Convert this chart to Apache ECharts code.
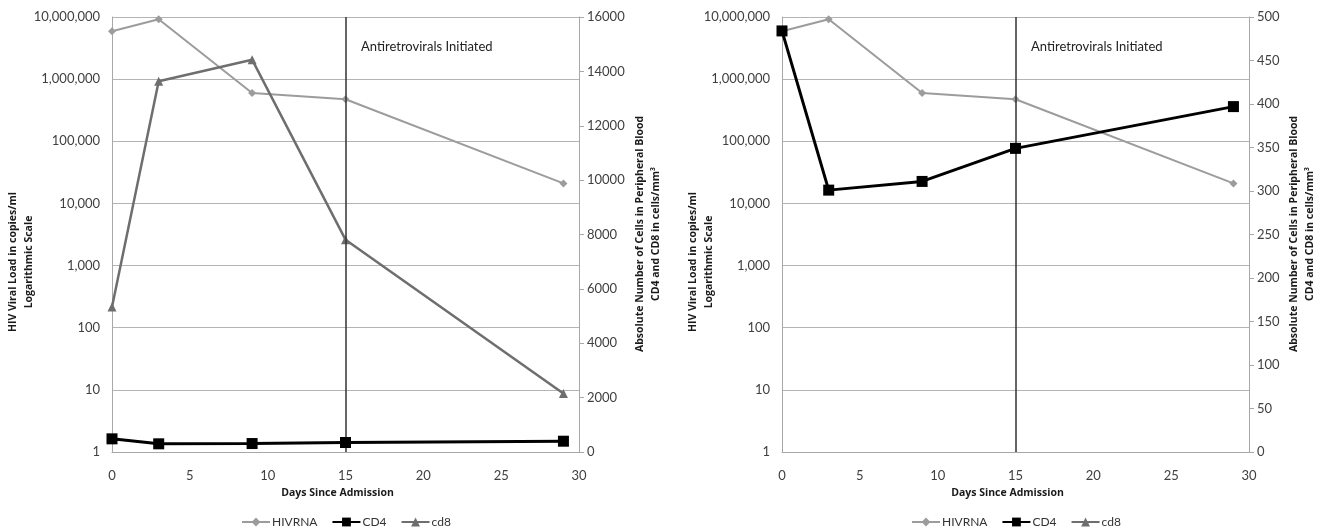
<!DOCTYPE html>
<html>
<head>
<meta charset="utf-8">
<script src="https://cdn.jsdelivr.net/npm/echarts@6/dist/echarts.min.js"></script>
<style>
html,body{margin:0;padding:0;background:#fff;}
#c{width:1321px;height:527px;}
</style>
</head>
<body>
<div id="c"></div>
<script>
// ---- data ----
var days = [0, 3, 9, 15, 29];
var hivRna = [5900000, 9200000, 600000, 475000, 21000];
var cd4 = [484, 301, 311, 349, 397];
var cd8 = [5330, 13640, 14430, 7810, 2150];
var xTicks = [0, 5, 10, 15, 20, 25, 30];
var artDay = 15;
var seriesNames = ['HIVRNA', 'CD4', 'cd8'];
var leftRightMax = 16000, leftRightStep = 2000;
var rightRightMax = 500, rightRightStep = 50;

function pairs(xs, ys) { return xs.map(function (x, i) { return [x, ys[i]]; }); }

var FONT = 'Lato, "Open Sans", sans-serif';
var BFONT = '"Open Sans", Lato, sans-serif';
var labelColor = '#404040';
var axisLineColor = '#a8a8a8';
var gridColor = '#b4b4b4';

function xAxis(gi) {
  return {
    type: 'value', gridIndex: gi, min: xTicks[0], max: xTicks[xTicks.length - 1], interval: 5,
    axisLine: { show: true, lineStyle: { color: axisLineColor, width: 1 } },
    axisTick: { show: false },
    splitLine: { show: false },
    axisLabel: { color: labelColor, fontSize: 13, fontFamily: FONT, margin: 17 },
    name: 'Days Since Admission', nameLocation: 'middle', nameGap: 36,
    nameTextStyle: { fontWeight: 'bold', fontSize: 10.5, color: '#1a1a1a', fontFamily: BFONT, padding: [0, 16, 0, 0] }
  };
}
function logAxis(gi) {
  return {
    type: 'log', gridIndex: gi, logBase: 10, min: 1, max: 10000000, interval: 1, position: 'left',
    axisLine: { show: true, lineStyle: { color: axisLineColor, width: 1 } },
    axisTick: { show: false },
    splitLine: { show: true, lineStyle: { color: gridColor, width: 1 } },
    axisLabel: { color: labelColor, fontSize: 13, fontFamily: FONT, margin: 12,
      formatter: function (v) { return Math.round(v).toLocaleString('en-US'); } }
  };
}
function valAxis(gi, max, step) {
  return {
    type: 'value', gridIndex: gi, min: 0, max: max, interval: step, position: 'right',
    axisLine: { show: true, lineStyle: { color: axisLineColor, width: 1 } },
    axisTick: { show: true, length: 5, lineStyle: { color: axisLineColor } },
    splitLine: { show: false },
    axisLabel: { color: labelColor, fontSize: 13, fontFamily: FONT, margin: 8,
      formatter: function (v) { return String(Math.round(v)); } }
  };
}
function makeSeries(gi) {
  var xa = gi, yl = gi * 2, yr = gi * 2 + 1;
  return [
    { name: 'HIVRNA', type: 'line', xAxisIndex: xa, yAxisIndex: yl, data: pairs(days, hivRna),
      symbol: 'diamond', symbolSize: 8, clip: true,
      lineStyle: { color: '#9c9c9c', width: 2 }, itemStyle: { color: '#9c9c9c' }, z: 3,
      markLine: { silent: true, symbol: 'none', label: { show: false },
        lineStyle: { color: '#333', width: 1.5, type: 'solid' }, data: [{ xAxis: artDay }] } },
    { name: 'CD4', type: 'line', xAxisIndex: xa, yAxisIndex: yr, data: pairs(days, cd4),
      symbol: 'rect', symbolSize: 11, clip: true,
      lineStyle: { color: '#000', width: 3 }, itemStyle: { color: '#000' }, z: 5 },
    { name: 'cd8', type: 'line', xAxisIndex: xa, yAxisIndex: yr, data: pairs(days, cd8),
      symbol: 'triangle', symbolSize: 9, clip: true,
      lineStyle: { color: '#6e6e6e', width: 2.5 }, itemStyle: { color: '#6e6e6e' }, z: 4 }
  ];
}
function legend(left) {
  return {
    data: seriesNames, left: left, top: 511, orient: 'horizontal',
    itemWidth: 28, itemHeight: 11, itemGap: 14, selectedMode: false,
    textStyle: { color: '#333', fontSize: 12, fontFamily: FONT, padding: [0, 0, 0, -3] }
  };
}
function vtitle(x, y, text) {
  return { type: 'text', x: x, y: y, rotation: Math.PI / 2, silent: true,
    style: { text: text, fill: '#1a1a1a', fontWeight: 'bold', fontSize: 10.5, fontFamily: BFONT,
      align: 'center', verticalAlign: 'middle', textAlign: 'center', textVerticalAlign: 'middle', lineHeight: 16 } };
}
function note(x, y) {
  return { type: 'text', x: x, y: y, silent: true,
    style: { text: 'Antiretrovirals Initiated', fill: '#222', fontSize: 13, fontFamily: FONT,
      textAlign: 'left', textVerticalAlign: 'middle', align: 'left', verticalAlign: 'middle' } };
}

var chart = echarts.init(document.getElementById('c'), null, { renderer: 'canvas' });
chart.setOption({
  animation: false,
  backgroundColor: '#fff',
  grid: [
    { left: 112, right: 742, top: 17, bottom: 75, containLabel: false },
    { left: 782, right: 72, top: 17, bottom: 75, containLabel: false }
  ],
  xAxis: [xAxis(0), xAxis(1)],
  yAxis: [logAxis(0), valAxis(0, leftRightMax, leftRightStep), logAxis(1), valAxis(1, rightRightMax, rightRightStep)],
  legend: [legend(236), legend(906)],
  series: makeSeries(0).concat(makeSeries(1)),
  graphic: [
    vtitle(21, 262, 'HIV Viral Load in copies/ml\nLogarithmic Scale'),
    vtitle(648, 234, 'Absolute Number of Cells in Peripheral Blood\nCD4 and CD8 in cells/mm³'),
    vtitle(701, 262, 'HIV Viral Load in copies/ml\nLogarithmic Scale'),
    vtitle(1302, 234, 'Absolute Number of Cells in Peripheral Blood\nCD4 and CD8 in cells/mm³'),
    note(361, 47),
    note(1031, 47)
  ]
});
</script>
</body>
</html>
